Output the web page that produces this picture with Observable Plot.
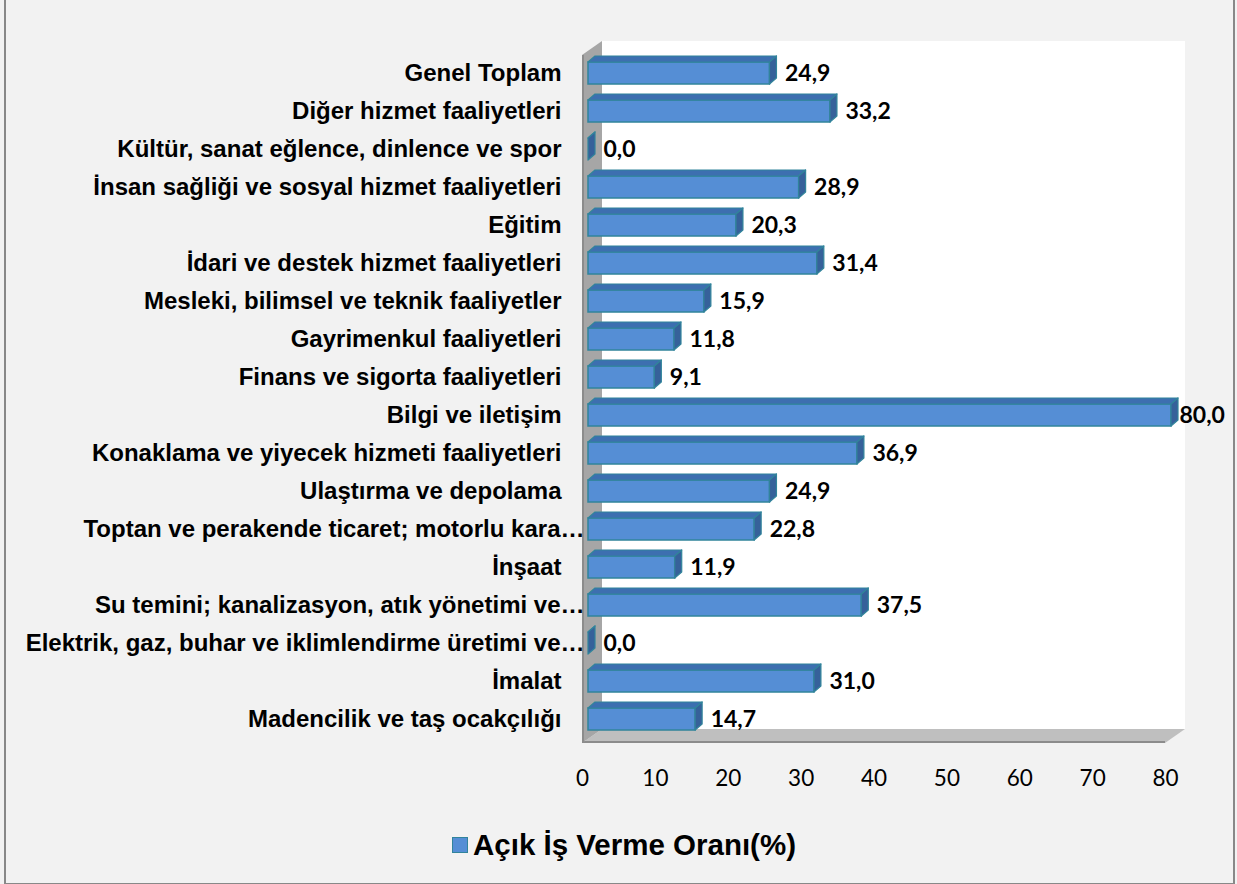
<!DOCTYPE html>
<html>
<head>
<meta charset="utf-8">
<script src="https://cdn.jsdelivr.net/npm/d3@7"></script>
<script src="https://cdn.jsdelivr.net/npm/@observablehq/plot@0.6"></script>
<style>
  html, body { margin: 0; padding: 0; background: #f2f2f2; }
  body { width: 1237px; height: 884px; position: relative; overflow: hidden; }
  #frame { position: absolute; left: 4px; top: -2px; width: 1227px; height: 883px; border: 2px solid #888888; background: #f2f2f2; }
  #chart { position: absolute; left: 0; top: 0; }
  #legend { position: absolute; left: 452px; top: 830px; height: 30px; display: flex; align-items: center;
            font-family: "Liberation Sans", Arial, sans-serif; font-weight: bold; font-size: 29.5px; color: #000; }
  #legend .sw { width: 14px; height: 14px; background: #558ed5; border: 1.5px solid #31849b; margin-right: 5px; }
</style>
</head>
<body>
<div id="frame"></div>
<div id="chart"></div>
<div id="legend"><span class="sw"></span><span id="legendText"></span></div>
<script>
const categories = [
  "Genel Toplam",
  "Diğer hizmet faaliyetleri",
  "Kültür, sanat eğlence, dinlence ve spor",
  "İnsan sağliği ve sosyal hizmet faaliyetleri",
  "Eğitim",
  "İdari ve destek hizmet faaliyetleri",
  "Mesleki, bilimsel ve teknik faaliyetler",
  "Gayrimenkul faaliyetleri",
  "Finans ve sigorta faaliyetleri",
  "Bilgi ve iletişim",
  "Konaklama ve yiyecek hizmeti faaliyetleri",
  "Ulaştırma ve depolama",
  "Toptan ve perakende ticaret; motorlu kara…",
  "İnşaat",
  "Su temini; kanalizasyon, atık yönetimi ve…",
  "Elektrik, gaz, buhar ve iklimlendirme üretimi ve…",
  "İmalat",
  "Madencilik ve taş ocakçılığı"
];
const values = [24.9, 33.2, 0.0, 28.9, 20.3, 31.4, 15.9, 11.8, 9.1, 80.0, 36.9, 24.9, 22.8, 11.9, 37.5, 0.0, 31.0, 14.7];
const xTicks = [0, 10, 20, 30, 40, 50, 60, 70, 80];
const seriesName = "Açık İş Verme Oranı(%)";

const data = categories.map((c, i) => ({cat: c, value: values[i]}));
const fmt = v => v.toFixed(1).replace(".", ",");
const X_MAX = 80;

const FRONT = "#558ed5", TOP = "#3d6fb0", SIDE = "#36619a", EDGE = "#31849b";
const BAR_INSET = 8, DEPTH_X = 7, DEPTH_Y = -6;
const LABEL_FONT = "'Liberation Sans', Arial, sans-serif";

// walls / floor decoration derived from scales
function decor(index, scales, values, dims) {
  const x = scales.x;
  const x0 = x(0) - 6, x1 = x(X_MAX) - 6;
  const yT = dims.marginTop + 3, yB = dims.height - dims.marginBottom + 4;
  const dx = 20, dy = -14;
  const g = d3.create("svg:g");
  g.append("rect").attr("x", x0 + dx).attr("y", yT + dy).attr("width", x1 - x0).attr("height", yB - yT).attr("fill", "#ffffff");
  g.append("polygon").attr("points", [[x0, yB], [x1, yB], [x1 + dx, yB + dy], [x0 + dx, yB + dy]].join(" ")).attr("fill", "#bfbfbf");
  g.append("line").attr("x1", x0).attr("x2", x1).attr("y1", yB - 1).attr("y2", yB - 1).attr("stroke", "#8c8c8c").attr("stroke-width", 2);
  g.append("polygon").attr("points", [[x0, yT], [x0 + dx, yT + dy], [x0 + dx, yB + dy], [x0, yB]].join(" ")).attr("fill", "#a6a6a6");
  g.append("line").attr("x1", x0 + 1).attr("x2", x0 + 1).attr("y1", yT).attr("y2", yB).attr("stroke", "#8c8c8c").attr("stroke-width", 2);
  return g.node();
}

// top and side faces of the 3D bars
function faces(index, scales, vals, dims) {
  const x = scales.x, y = scales.y;
  const bw = y.bandwidth ? y.bandwidth() : (y(categories[1]) - y(categories[0]));
  const g = d3.create("svg:g");
  for (const d of data) {
    const xa = x(0), xb = x(d.value);
    const yt = y(d.cat) + BAR_INSET, yb = y(d.cat) + bw - BAR_INSET;
    g.append("polygon")
      .attr("points", [[xa, yt], [xa + DEPTH_X, yt + DEPTH_Y], [xb + DEPTH_X, yt + DEPTH_Y], [xb, yt]].join(" "))
      .attr("fill", TOP).attr("stroke", EDGE).attr("stroke-width", 1.2).attr("stroke-linejoin", "round");
    g.append("polygon")
      .attr("points", [[xb, yt], [xb + DEPTH_X, yt + DEPTH_Y], [xb + DEPTH_X, yb + DEPTH_Y], [xb, yb]].join(" "))
      .attr("fill", SIDE).attr("stroke", EDGE).attr("stroke-width", 1.2).attr("stroke-linejoin", "round");
  }
  return g.node();
}

const valueTextOpts = {fontFamily: "Lato, sans-serif", fontWeight: "bold", fontSize: 23, fill: "#000", textAnchor: "start"};

const chart = Plot.plot({
  width: 1237,
  height: 810,
  marginLeft: 588,
  marginRight: 66,
  marginTop: 52,
  marginBottom: 71,
  style: {background: "transparent", overflow: "visible"},
  x: {domain: [0, X_MAX], axis: null},
  y: {domain: categories, padding: 0, axis: null},
  marks: [
    decor,
    Plot.axisX({ticks: xTicks, tickSize: 0, tickPadding: 31, dx: -6, fontSize: 22.5, fontFamily: "Lato, sans-serif", fill: "#000", label: null}),
    Plot.barX(data, {x: "value", y: "cat", fill: FRONT, stroke: EDGE, strokeWidth: 1.5, insetTop: BAR_INSET, insetBottom: BAR_INSET}),
    faces,
    // labels that fit to the right of the bar
    Plot.text(data.filter(d => d.value < X_MAX * 0.95), {x: "value", y: "cat", text: d => fmt(d.value), dx: 15, ...valueTextOpts}),
    // labels of bars reaching the edge are pulled in tight
    Plot.text(data.filter(d => d.value >= X_MAX * 0.95), {x: "value", y: "cat", text: d => fmt(d.value), dx: 8, ...valueTextOpts}),
    Plot.text(data.filter(d => !d.cat.endsWith("…")), {x: () => 0, y: "cat", text: "cat", dx: -27, textAnchor: "end",
      fontFamily: LABEL_FONT, fontWeight: "bold", fontSize: 24, fill: "#000"}),
    Plot.text(data.filter(d => d.cat.endsWith("…")), {x: () => 0, y: "cat", text: "cat", dx: -4, textAnchor: "end",
      fontFamily: LABEL_FONT, fontWeight: "bold", fontSize: 24, fill: "#000"})
  ]
});
document.getElementById("chart").appendChild(chart);
document.getElementById("legendText").textContent = seriesName;
</script>
</body>
</html>
